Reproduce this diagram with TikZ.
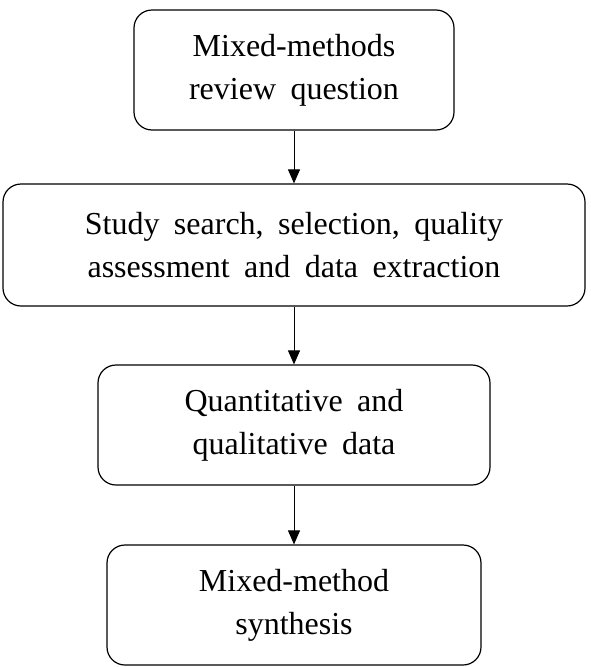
\documentclass[tikz,border=0pt]{standalone}
\usepackage{fontspec}
\setmainfont{Liberation Serif}[WordSpace=1.8]
\usetikzlibrary{arrows.meta}
\begin{document}
\begin{tikzpicture}
% 1pt = 1px of the 590x667 page, y runs downwards
[x=1pt, y=-1pt, line width=1.2pt,
 box/.style={draw, rounded corners=18pt, align=center, inner sep=0pt,
   font=\fontsize{32}{43}\selectfont},
 flow/.style={-{Triangle[width=12pt,length=14pt]}, line width=0.9pt}]
\useasboundingbox (0,0) rectangle (590,667);
% 294 = common centre line of the boxes
% 70 = (10+130)/2, 245 = (184+306)/2, 425 = (365+485)/2, 605 = (545+665)/2
\node[box, minimum width=320pt, minimum height=120pt] (question) at (294,70)
  {Mixed-methods\\review question};
\node[box, minimum width=582pt, minimum height=122pt] (search) at (294,245)
  {Study search, selection, quality\\assessment and data extraction};
\node[box, minimum width=392pt, minimum height=120pt] (data) at (294,425)
  {Quantitative and\\qualitative data};
\node[box, minimum width=374pt, minimum height=120pt] (synth) at (294,605)
  {Mixed-method\\synthesis};
\foreach \from/\to in {question/search,search/data,data/synth}{
	\draw[flow] (\from) -- (\to);
	}
\end{tikzpicture}
\end{document}
